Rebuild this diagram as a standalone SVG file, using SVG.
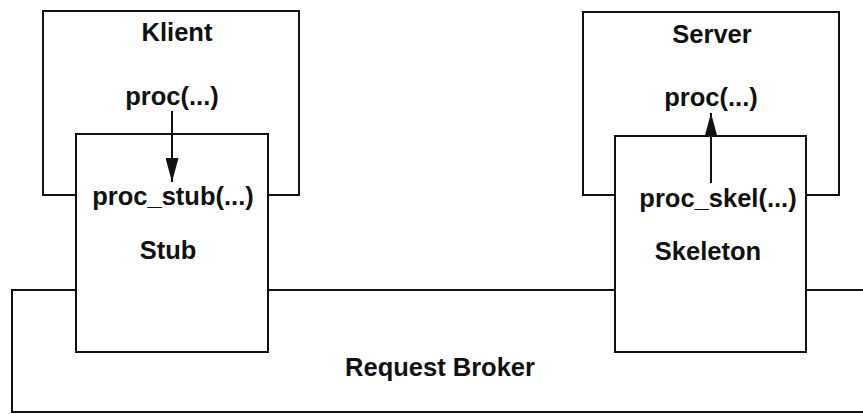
<svg xmlns="http://www.w3.org/2000/svg" width="863" height="414" viewBox="0 0 863 414">
<style>
.box{fill:#fff;stroke:#111;stroke-width:2}
.t{font-family:"Liberation Sans",Arial,sans-serif;font-weight:bold;font-size:25.5px;fill:#111;text-anchor:middle}
.c{stroke:#111;stroke-width:2;fill:none}
</style>
<defs>
<marker id="ah" markerWidth="24" markerHeight="13" refX="24" refY="6.5" viewBox="0 0 24 13" orient="auto" markerUnits="userSpaceOnUse">
<path d="M0,0 L24,6.5 L0,13 Z" fill="#111"/>
</marker>
</defs>
<rect width="863" height="414" fill="#fff"/>
<g id="broker">
<rect class="box" x="12" y="290" width="860" height="122"/>
<text class="t" x="440" y="376">Request Broker</text>
</g>
<g id="klient">
<rect class="box" x="43" y="11" width="256" height="184"/>
<text class="t" x="177" y="41">Klient</text>
<text class="t" x="172" y="105">proc(...)</text>
</g>
<g id="server">
<rect class="box" x="583" y="12" width="256" height="183"/>
<text class="t" x="712" y="43">Server</text>
<text class="t" x="711" y="106">proc(...)</text>
</g>
<g id="stub">
<rect class="box" x="76" y="134" width="192" height="218"/>
<text class="t" x="173" y="205">proc_stub(...)</text>
<text class="t" x="168" y="259">Stub</text>
</g>
<g id="skeleton">
<rect class="box" x="615" y="136" width="191" height="216"/>
<text class="t" x="718" y="207">proc_skel(...)</text>
<text class="t" x="708" y="260">Skeleton</text>
</g>
<g id="connectors">
<line class="c" x1="172" y1="111" x2="172" y2="182" marker-end="url(#ah)"/>
<line class="c" x1="711" y1="183" x2="711" y2="113" marker-end="url(#ah)"/>
</g>
</svg>
